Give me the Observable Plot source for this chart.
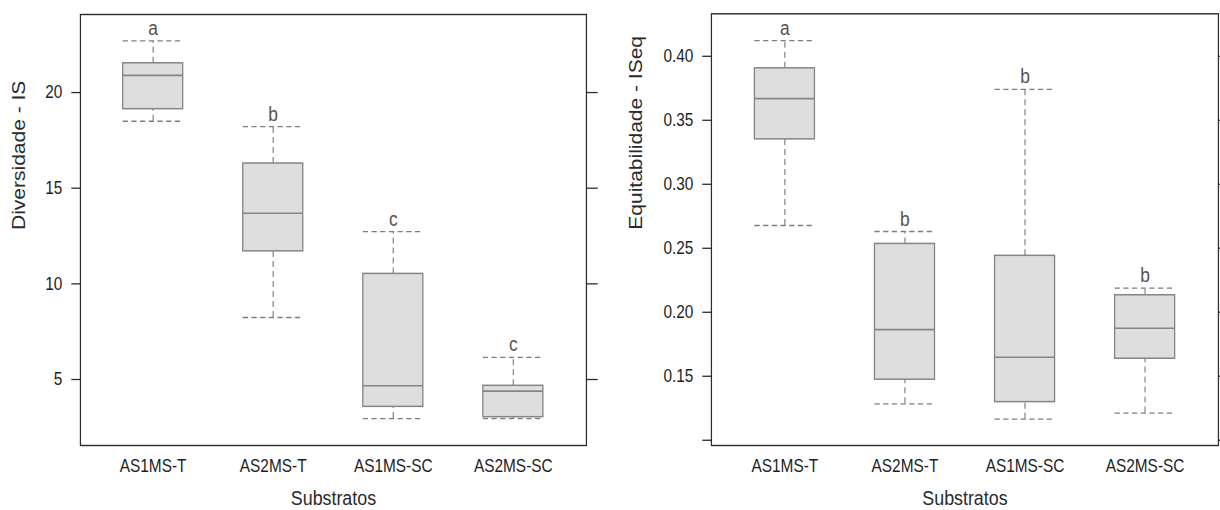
<!DOCTYPE html>
<html>
<head>
<meta charset="utf-8">
<script src="https://cdn.jsdelivr.net/npm/d3@7"></script>
<script src="https://cdn.jsdelivr.net/npm/@observablehq/plot@0.6"></script>
<style>
  html, body { margin: 0; padding: 0; background: #ffffff; }
  #chart { display: flex; width: 1220px; height: 510px; overflow: hidden; }
  #chart svg { display: block; flex: none; }
</style>
</head>
<body>
<div id="chart"></div>
<script>
// ---- data ----
const categories = ["AS1MS-T", "AS2MS-T", "AS1MS-SC", "AS2MS-SC"];

// Left panel: Diversidade - IS
const divLow    = [18.50, 8.24, 2.96, 2.96];
const divQ1     = [19.13, 11.70, 3.57, 3.03];
const divMedian = [20.90, 13.69, 4.67, 4.39];
const divQ3     = [21.53, 16.29, 10.52, 4.67];
const divHigh   = [22.70, 18.22, 12.73, 6.16];
const divLetters = ["a", "b", "c", "c"];
const divTicks = [5, 10, 15, 20];
const divTickLabels = ["5", "10", "15", "20"];

// Right panel: Equitabilidade - ISeq
const eqLow    = [0.2678, 0.1285, 0.1165, 0.1212];
const eqQ1     = [0.3351, 0.1473, 0.1298, 0.1637];
const eqMedian = [0.3669, 0.1864, 0.1648, 0.1875];
const eqQ3     = [0.3906, 0.2534, 0.2441, 0.2133];
const eqHigh   = [0.4123, 0.2631, 0.3742, 0.2188];
const eqLetters = ["a", "b", "b", "b"];
const eqTicks = [0.10, 0.15, 0.20, 0.25, 0.30, 0.35, 0.40];
const eqTickLabels = ["", "0.15", "0.20", "0.25", "0.30", "0.35", "0.40"];

const xTitle = "Substratos";

// ---- drawing ----
const K = 0.87;            // horizontal squeeze of the original image
const PANEL_W = 610, H = 510;
const W = PANEL_W / K;

function rows(low, q1, med, q3, high, letters) {
  return categories.map((c, i) => ({cat: c, low: low[i], q1: q1[i], med: med[i], q3: q3[i], high: high[i], letter: letters[i]}));
}

const BOX_FILL = "#dedede", BOX_STROKE = "#858585", WHISK = "#7d7d7d", FRAME = "#2b2b2b";
const FONT = "'Liberation Sans', Arial, Helvetica, sans-serif";

function panel({data, domain, ticks, tickLabels, yTitle, mLeft, mRight, mTop, titleDx}) {
  const fmt = d => tickLabels[ticks.indexOf(d)] ?? "";
  const svg = Plot.plot({
    width: W,
    height: H,
    marginLeft: mLeft,
    marginRight: mRight,
    marginTop: mTop,
    marginBottom: 65,
    style: {fontFamily: FONT, fontSize: "17.7px", background: "#ffffff", color: "#222"},
    x: {type: "band", domain: categories, paddingInner: 0.5, paddingOuter: 0.35},
    y: {type: "linear", domain: domain},
    marks: [
      // whisker stems
      Plot.ruleX(data, {x: "cat", y1: "q3", y2: "high", stroke: WHISK, strokeWidth: 1.3, strokeDasharray: "6,4"}),
      Plot.ruleX(data, {x: "cat", y1: "low", y2: "q1", stroke: WHISK, strokeWidth: 1.3, strokeDasharray: "6,4"}),
      // whisker caps
      Plot.tickY(data, {x: "cat", y: "high", stroke: WHISK, strokeWidth: 1.3, strokeDasharray: "6,4"}),
      Plot.tickY(data, {x: "cat", y: "low", stroke: WHISK, strokeWidth: 1.3, strokeDasharray: "6,4"}),
      // boxes
      Plot.barY(data, {x: "cat", y1: "q1", y2: "q3", fill: BOX_FILL, stroke: BOX_STROKE, strokeWidth: 1.5}),
      // medians
      Plot.tickY(data, {x: "cat", y: "med", stroke: BOX_STROKE, strokeWidth: 1.6}),
      // significance letters
      Plot.text(data, {x: "cat", y: "high", text: "letter", lineAnchor: "bottom", dy: -6, fontSize: 20, fill: "#5a534c"}),
      // axes
      Plot.axisY({anchor: "left", ticks: ticks, tickFormat: fmt, tickSize: 10, tickPadding: 10.7, label: null, stroke: FRAME, strokeWidth: 1.3, fill: "#1e1e1e"}),
      Plot.axisY({anchor: "right", ticks: ticks, tickFormat: () => "", tickSize: 12.5, label: null, stroke: FRAME, strokeWidth: 1.3}),
      Plot.axisX({anchor: "bottom", tickSize: 0, tickPadding: 13.7, label: null, fill: "#1e1e1e"}),
      Plot.frame({stroke: FRAME, strokeWidth: 1.4}),
      // axis titles
      Plot.text([yTitle], {text: d => d, frameAnchor: "left", rotate: -90, dx: titleDx, fontSize: 21, fill: "#2a2a2a"}),
      Plot.text([xTitle], {text: d => d, frameAnchor: "bottom", dy: 59.5, fontSize: 20.5, fill: "#2a2a2a"})
    ]
  });
  svg.setAttribute("preserveAspectRatio", "none");
  svg.setAttribute("width", PANEL_W);
  svg.setAttribute("height", H);
  svg.style.width = PANEL_W + "px";
  svg.style.height = H + "px";
  svg.style.maxWidth = "none";
  return svg;
}

const left = panel({
  data: rows(divLow, divQ1, divMedian, divQ3, divHigh, divLetters),
  domain: [1.55, 24.08],
  ticks: divTicks,
  tickLabels: divTickLabels,
  yTitle: "Diversidade - IS",
  mLeft: 80 / K,
  mRight: (PANEL_W - 586) / K,
  mTop: 14,
  titleDx: 21.8 - 80 / K
});

const right = panel({
  data: rows(eqLow, eqQ1, eqMedian, eqQ3, eqHigh, eqLetters),
  domain: [0.0959, 0.4332],
  ticks: eqTicks,
  tickLabels: eqTickLabels,
  yTitle: "Equitabilidade - ISeq",
  mLeft: 101 / K,
  mRight: (PANEL_W - 608) / K,
  mTop: 13.3,
  titleDx: 29.5 - 101 / K
});

const chart = document.getElementById("chart");
chart.appendChild(left);
chart.appendChild(right);
</script>
</body>
</html>
